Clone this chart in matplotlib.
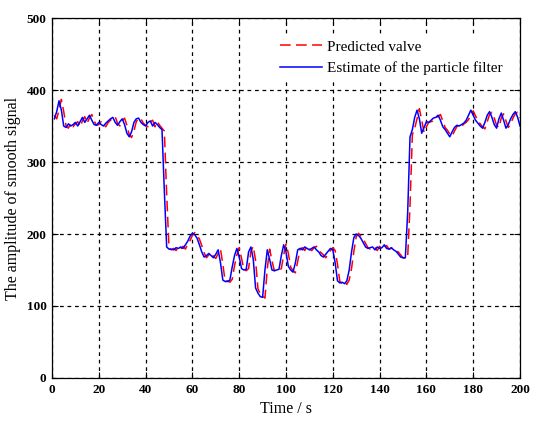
import numpy as np
import matplotlib.pyplot as plt

plt.rcParams['font.family'] = ['Liberation Serif', 'DejaVu Serif']
plt.rcParams['mathtext.fontset'] = 'stix'

# time axis, one sample per second
tempo = np.arange(1, 201)

# estimate of the particle filter
estimado = [
    360, 370, 385, 372, 350, 348, 353, 350, 352, 355,
    350, 356, 362, 355, 360, 365, 358, 352, 351, 355,
    352, 350, 354, 357, 360, 362, 355, 351, 356, 360,
    352, 340, 335, 342, 355, 360, 361, 355, 352, 350,
    355, 357, 350, 355, 352, 348, 345, 260, 182, 179,
    179, 178, 181, 180, 182, 180, 185, 190, 197, 201,
    199, 194, 185, 175, 168, 170, 173, 170, 167, 172,
    178, 160, 136, 134, 134, 136, 154, 170, 180, 168,
    152, 150, 151, 175, 182, 165, 125, 118, 113, 112,
    150, 178, 165, 150, 149, 150, 151, 170, 185, 175,
    155, 150, 147, 160, 178, 180, 178, 182, 180, 178,
    180, 182, 178, 175, 170, 168, 172, 176, 180, 178,
    160, 135, 132, 133, 131, 135, 150, 175, 195, 200,
    198, 194, 188, 182, 180, 181, 182, 178, 182, 180,
    181, 185, 180, 179, 181, 178, 176, 172, 168, 167,
    167, 230, 335, 345, 362, 372, 360, 340, 348, 356,
    355, 358, 361, 362, 365, 358, 349, 345, 340, 335,
    342, 348, 351, 350, 352, 354, 358, 365, 372, 365,
    358, 354, 350, 347, 355, 365, 370, 362, 352, 347,
    360, 368, 358, 347, 352, 360, 366, 370, 362, 350,
]

# predicted valve
previsto = [
    365, 360, 372, 387, 370, 350, 347, 354, 349, 353,
    356, 349, 357, 363, 354, 361, 366, 357, 351, 352,
    356, 351, 349, 355, 358, 361, 363, 354, 350, 357,
    361, 351, 338, 334, 343, 356, 361, 360, 354, 351,
    349, 356, 358, 349, 356, 351, 347, 343, 255, 180,
    178, 180, 177, 182, 179, 183, 179, 186, 191, 198,
    202, 198, 193, 184, 174, 167, 171, 174, 169, 166,
    173, 179, 158, 134, 135, 133, 137, 156, 171, 181,
    166, 151, 149, 152, 176, 183, 163, 124, 117, 114,
    111, 152, 179, 163, 149, 150, 149, 152, 171, 186,
    173, 154, 149, 146, 162, 179, 181, 177, 183, 179,
    177, 181, 183, 177, 174, 171, 167, 173, 177, 181,
    177, 158, 134, 131, 134, 130, 136, 152, 176, 196,
    201, 197, 193, 187, 181, 179, 182, 181, 177, 183,
    179, 182, 184, 179, 180, 180, 177, 175, 171, 167,
    166, 168, 240, 338, 347, 360, 374, 358, 341, 349,
    355, 356, 357, 362, 363, 366, 357, 348, 344, 339,
    336, 343, 349, 352, 349, 353, 355, 359, 366, 371,
    364, 357, 353, 349, 346, 356, 366, 369, 361, 351,
    348, 361, 367, 357, 348, 353, 361, 367, 369, 361,
]

fig = plt.figure(figsize=(5.33, 4.23), dpi=100)
ax = fig.add_axes([0.0976, 0.1064, 0.878, 0.851])

ax.plot(tempo, previsto, color='red', linestyle=(0, (7, 3.5)), linewidth=1.1,
        label='Predicted valve')
ax.plot(tempo, estimado, color='blue', linewidth=1.1,
        label='Estimate of the particle filter')

ax.set_xlim(0, 200)
ax.set_ylim(0, 500)
ax.set_xticks(np.arange(0, 201, 20))
ax.set_yticks(np.arange(0, 501, 100))
ax.tick_params(direction='in', top=True, right=True, labelsize=9.5, length=4,
               width=0.8, pad=4)
for lbl in ax.get_xticklabels() + ax.get_yticklabels():
    lbl.set_fontweight('bold')

ax.grid(True, color='black', linestyle=(0, (3, 3)), linewidth=0.9)
for s in ax.spines.values():
    s.set_linewidth(0.9)

ax.set_xlabel('Time / s', fontsize=11.5, labelpad=4)
ax.set_ylabel('The amplitude of smooth signal', fontsize=11.5, labelpad=4)

leg = ax.legend(loc='upper right', bbox_to_anchor=(0.976, 0.956),
                fontsize=11, handlelength=2.8, handletextpad=0.3,
                frameon=True, fancybox=False, borderaxespad=0.0,
                framealpha=1.0, edgecolor='white')

fig.savefig('out.png', dpi=100)
